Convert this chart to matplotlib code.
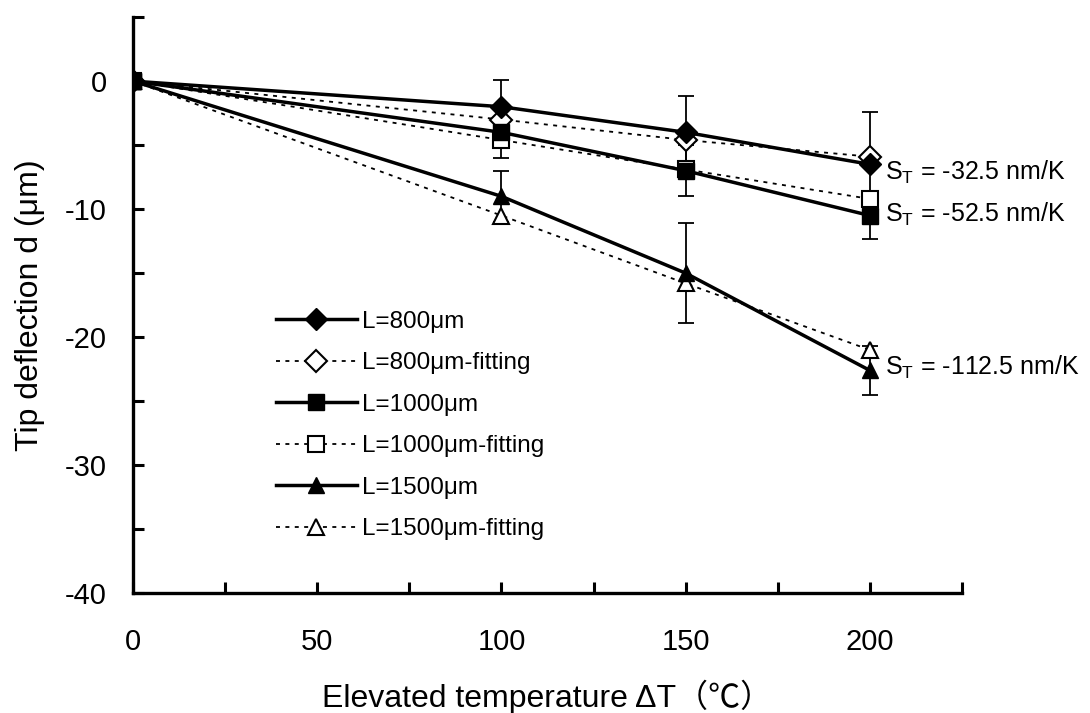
import numpy as np
import matplotlib
matplotlib.use("Agg")
import matplotlib.pyplot as plt

plt.rcParams['font.family'] = ['Liberation Sans', 'Noto Sans CJK TC', 'DejaVu Sans']
plt.rcParams['mathtext.fontset'] = 'custom'
plt.rcParams['mathtext.rm'] = 'Liberation Sans'

# data
dT = [0, 100, 150, 200]

d_800 = [0, -2.0, -4.0, -6.5]
err_800 = [0, 2.1, 2.8, 4.1]
fit_800 = [0, -3.0, -4.6, -5.9]

d_1000 = [0, -4.0, -7.0, -10.5]
err_1000 = [0, 2.0, 2.0, 1.8]
fit_1000 = [0, -4.6, -6.9, -9.2]

d_1500 = [0, -9.0, -15.0, -22.6]
err_1500 = [0, 2.0, 3.9, 1.9]
fit_1500 = [0, -10.5, -15.8, -21.0]

slopes = ['-32.5', '-52.5', '-112.5']
slope_y = [-7.1, -10.4, -22.4]

fig = plt.figure(figsize=(10.9, 7.13), dpi=100)
ax = fig.add_axes([0.122, 0.168, 0.7606, 0.808])

dot = (0, (2.2, 3))
ebk = dict(ecolor='black', elinewidth=1.3, capsize=5.5, capthick=1.3)

# error bars first (drawn under markers)
for d, e in [(d_800, err_800), (d_1000, err_1000), (d_1500, err_1500)]:
    ax.errorbar(dT[1:], d[1:], yerr=e[1:], fmt='none', zorder=1, **ebk)

ax.plot(dT, d_800, '-', color='black', lw=2.5, marker='D', ms=11,
        mfc='black', mec='black', label='L=800μm', zorder=3)
ax.plot(dT, fit_800, linestyle=dot, color='black', lw=1.3, marker='D', ms=11,
        mfc='white', mec='black', mew=1.5, label='L=800μm-fitting', zorder=2)
ax.plot(dT, d_1000, '-', color='black', lw=2.5, marker='s', ms=11,
        mfc='black', mec='black', label='L=1000μm', zorder=3)
ax.plot(dT, fit_1000, linestyle=dot, color='black', lw=1.3, marker='s', ms=11,
        mfc='white', mec='black', mew=1.5, label='L=1000μm-fitting', zorder=2)
ax.plot(dT, d_1500, '-', color='black', lw=2.5, marker='^', ms=12,
        mfc='black', mec='black', label='L=1500μm', zorder=3)
ax.plot(dT, fit_1500, linestyle=dot, color='black', lw=1.3, marker='^', ms=12,
        mfc='white', mec='black', mew=1.5, label='L=1500μm-fitting', zorder=2)
# square on top at origin as in the reference
ax.plot(dT[:1], d_1000[:1], 's', ms=11, color='black', zorder=4)

for s, y in zip(slopes, slope_y):
    ax.text(204, y, r'S$_\mathregular{T}$ = ' + s + ' nm/K', fontsize=18,
            va='center', ha='left')

ax.set_xlim(0, 225)
ax.set_ylim(-40, 5)
ax.set_xticks(np.arange(0, 226, 25))
ax.set_xticklabels([str(v) if v % 50 == 0 and v <= 200 else '' for v in range(0, 226, 25)])
ax.set_yticks(np.arange(-40, 6, 5))
ax.set_yticklabels([str(v) if v % 10 == 0 and v <= 0 else '' for v in range(-40, 6, 5)])
ax.tick_params(direction='in', length=8, width=2.2, labelsize=21)
ax.tick_params(axis='x', pad=25)
ax.tick_params(axis='y', pad=19)
for side in ['top', 'right']:
    ax.spines[side].set_visible(False)
for side in ['left', 'bottom']:
    ax.spines[side].set_linewidth(2.4)

ax.set_xlabel('Elevated temperature ΔT（℃）', fontsize=23, labelpad=17)
ax.set_ylabel('Tip deflection d (μm)', fontsize=23, labelpad=14)

ax.legend(loc='upper left', bbox_to_anchor=(0.1725, 0.49), frameon=False,
          fontsize=17.5, handlelength=3.33, handletextpad=0.2, labelspacing=0.8,
          borderaxespad=0, borderpad=0)

fig.savefig('out.png', dpi=100)
